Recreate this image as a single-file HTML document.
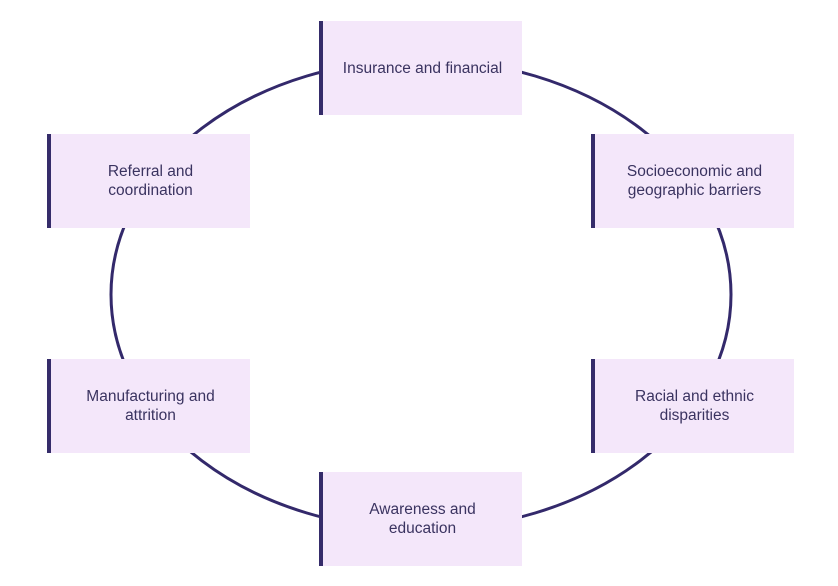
<!DOCTYPE html>
<html><head><style>
body{margin:0;width:838px;height:586px;background:#fff;position:relative;overflow:hidden;font-family:"Liberation Sans","DejaVu Sans",sans-serif}
.b{position:absolute;width:199px;height:94px;background:#f4e7fa;border-left:4px solid #352c6a;display:flex;align-items:center;justify-content:center;text-align:center;color:#3a3360;font-size:15.5px;line-height:19px}
</style></head><body>
<svg width="838" height="586" style="position:absolute;left:0;top:0">
<ellipse cx="421" cy="294.5" rx="310" ry="235" fill="none" stroke="#33296b" stroke-width="3"/>
</svg>
<div class="b" style="left:319px;top:21px">Insurance and financial</div>
<div class="b" style="left:47px;top:134px">Referral and<br>coordination</div>
<div class="b" style="left:591px;top:134px">Socioeconomic and<br>geographic barriers</div>
<div class="b" style="left:47px;top:359px">Manufacturing and<br>attrition</div>
<div class="b" style="left:591px;top:359px">Racial and ethnic<br>disparities</div>
<div class="b" style="left:319px;top:472px">Awareness and<br>education</div>
</body></html>
